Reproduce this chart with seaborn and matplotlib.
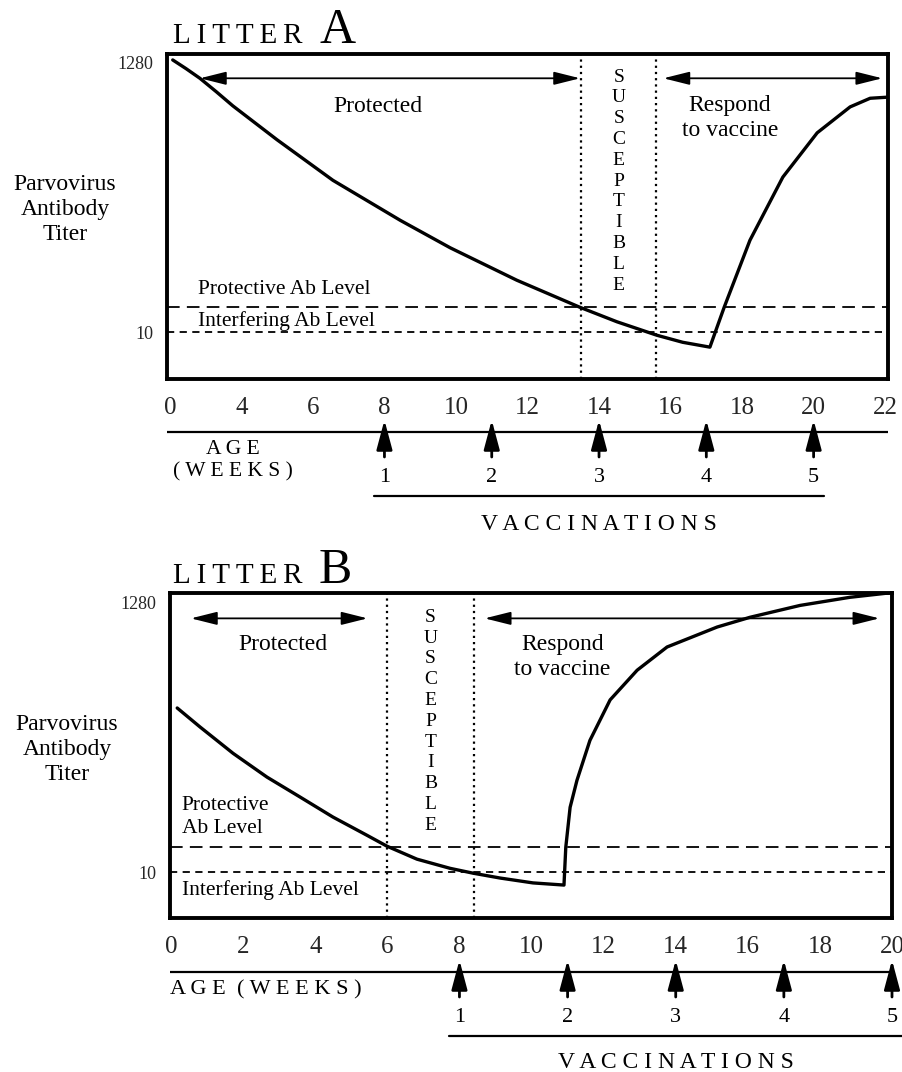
import numpy as np
import seaborn as sns
import matplotlib.pyplot as plt

# ---- data ----
# x tick labels (weeks); litter A axis jumps straight from 0 to 4
ticks_a = [0, 4, 6, 8, 10, 12, 14, 16, 18, 20, 22]
ticks_b = [0, 2, 4, 6, 8, 10, 12, 14, 16, 18, 20]
vacc_weeks = [8, 11, 14, 17, 20]
vacc_labels = ["1", "2", "3", "4", "5"]

# y is in tick steps: 0 -> titer 10, 5 -> titer 1280
y_ticklabels = ["10", "", "", "", "", "1280"]
protective_level = 0.46
interfering_level = 0.0

weeks_a = [0.16, 0.9, 1.68, 2.6, 3.52, 5.0, 6.56, 8.44, 9.84, 11.7, 13.46,
           14.5, 15.62, 16.34, 17.1, 17.5, 18.22, 19.14, 20.1, 21.02, 21.58,
           22.06]
level_a = [5.04, 4.88, 4.70, 4.45, 4.19, 3.56, 2.81, 2.07, 1.56, 0.96, 0.46,
           0.19, -0.06, -0.19, -0.28, 0.46, 1.70, 2.87, 3.69, 4.17, 4.33,
           4.35]

weeks_b = [0.17, 0.8, 1.72, 2.66, 3.58, 4.49, 5.44, 5.99, 6.82, 7.74, 8.38,
           9.13, 10.04, 10.9, 10.95, 11.07, 11.26, 11.62, 12.18, 12.93, 13.76,
           15.15, 16.06, 17.45, 18.83, 19.9]
level_b = [3.04, 2.69, 2.20, 1.76, 1.39, 1.02, 0.68, 0.48, 0.24, 0.07, -0.02,
           -0.11, -0.20, -0.24, 0.46, 1.2, 1.7, 2.44, 3.19, 3.74, 4.17,
           4.54, 4.72, 4.94, 5.09, 5.17]

susceptible_a = [13.5, 15.6]
susceptible_b = [6.0, 8.4]
protected_a = [1.68, 13.47]
respond_a = [15.8, 21.92]
protected_b = [0.55, 5.45]
respond_b = [8.7, 19.65]

# ---- style ----
sns.set_style("white")
plt.rcParams["font.family"] = ["Liberation Serif", "DejaVu Serif"]
plt.rcParams["text.color"] = "black"

W, H = 902, 1072
fig = plt.figure(figsize=(W / 100, H / 100), dpi=100)


def frac(x0, y0, x1, y1):
    # pixel box -> figure fraction
    return [x0 / W, 1 - y1 / H, (x1 - x0) / W, (y1 - y0) / H]


def fwd_a(w):
    w = np.asarray(w, float)
    return np.where(w < 4, w / 4, (w - 2) / 2)


def inv_a(p):
    p = np.asarray(p, float)
    return np.where(p < 1, 4 * p, 2 * p + 2)


arrow_span = dict(arrowstyle="<|-|>,head_length=0.8,head_width=0.2",
                  mutation_scale=20, lw=1.3, color="black", shrinkA=0, shrinkB=0)
arrow_up = dict(arrowstyle="-|>,head_length=0.9,head_width=0.24",
                mutation_scale=20, lw=2.0, color="black", shrinkA=0, shrinkB=0)


def panel(ax, weeks, level, ticks, xlim, ylim, susc, prot, resp):
    sns.lineplot(x=weeks, y=level, ax=ax, color="black", lw=2.4,
                 estimator=None, sort=False)
    ax.set_xlim(xlim)
    ax.set_ylim(ylim)
    ax.set_xticks(ticks)
    ax.set_xticklabels([str(t) for t in ticks], fontsize=18)
    ax.tick_params(axis="x", length=0, pad=13)
    ax.set_yticks(range(6))
    ax.set_yticklabels(y_ticklabels, fontsize=13)
    ax.tick_params(axis="y", direction="out", length=9, width=1.6, pad=1)
    for s in ax.spines.values():
        s.set_visible(True)
        s.set_color("black")
        s.set_linewidth(2.8)

    ax.axhline(protective_level, color="black", lw=1.3, ls=(0, (7, 4)))
    ax.axhline(interfering_level, color="black", lw=1.3, ls=(0, (4, 3)))
    for x in susc:
        ax.axvline(x, color="black", lw=1.6, ls=(0, (1, 1.8)))

    ax.annotate("", xy=(prot[1], 4.7), xytext=(prot[0], 4.7), arrowprops=arrow_span)
    ax.annotate("", xy=(resp[1], 4.7), xytext=(resp[0], 4.7), arrowprops=arrow_span)

    mid = sum(susc) / 2
    for i, ch in enumerate("SUSCEPTIBLE"):
        ax.text(mid, 4.72 - i * 0.385, ch, ha="center", va="center", fontsize=14)


def strip(ax, y_line, y_arrow, y_num, y_under, y_vacc):
    ax.axis("off")
    ax.axhline(y_line, color="black", lw=1.6)
    for v, lab in zip(vacc_weeks, vacc_labels):
        ax.annotate("", xy=(v, y_arrow[0]), xytext=(v, y_arrow[1]), arrowprops=arrow_up)
        ax.text(v, y_num, lab, ha="center", va="center", fontsize=16)
    ax.plot([vacc_weeks[0] - 0.3, vacc_weeks[-1] + 0.3], [y_under, y_under],
            color="black", lw=1.6, clip_on=False)
    ax.text(sum(vacc_weeks) / len(vacc_weeks), y_vacc, "V A C C I N A T I O N S",
            ha="center", va="center", fontsize=17)


def title(y, letter, x_letter):
    fig.text(173 / W, 1 - y / H, "L\u2009I\u2009T\u2009T\u2009E\u2009R",
             fontsize=21, va="baseline")
    fig.text(x_letter / W, 1 - y / H, letter, fontsize=36, va="baseline")


# ---- Litter A ----
ax_a = fig.add_axes(frac(167, 54, 888, 379))
ax_a.set_xscale("function", functions=(fwd_a, inv_a))
panel(ax_a, weeks_a, level_a, ticks_a, (-0.16, 22.08), (-0.87, 5.15),
      susceptible_a, protected_a, respond_a)
ax_a.text(7.82, 4.17, "Protected", ha="center", va="center", fontsize=17)
ax_a.text(17.66, 3.96, "Respond\nto vaccine", ha="center", va="center",
          fontsize=17, linespacing=1.25)
ax_a.text(1.57, 0.78, "Protective Ab Level", ha="left", va="center", fontsize=15.5)
ax_a.text(1.57, 0.2, "Interfering Ab Level", ha="left", va="center", fontsize=15.5)

st_a = fig.add_axes(frac(167, 395, 888, 540), sharex=ax_a)
st_a.set_ylim(540, 395)
strip(st_a, 432, (420, 457), 478, 496, 524)
st_a.text(0.092, 461, "A G E\n( W E E K S )", ha="center", va="center",
          fontsize=15.5, linespacing=1.2, transform=st_a.get_yaxis_transform())

title(43, "A", 320)
fig.text(65 / W, 1 - 209 / H, "Parvovirus\nAntibody\nTiter", ha="center",
         va="center", fontsize=17, linespacing=1.25)

# ---- Litter B ----
ax_b = fig.add_axes(frac(170, 593, 892, 918))
panel(ax_b, weeks_b, level_b, ticks_b, (-0.03, 20.0), (-0.85, 5.17),
      susceptible_b, protected_b, respond_b)
ax_b.text(3.11, 4.22, "Protected", ha="center", va="center", fontsize=17)
ax_b.text(10.85, 3.98, "Respond\nto vaccine", ha="center", va="center",
          fontsize=17, linespacing=1.25)
ax_b.text(0.3, 1.02, "Protective\nAb Level", ha="left", va="center",
          fontsize=15.5, linespacing=1.25)
ax_b.text(0.3, -0.33, "Interfering Ab Level", ha="left", va="center", fontsize=15.5)

st_b = fig.add_axes(frac(170, 925, 892, 1072), sharex=ax_b)
st_b.set_ylim(1072, 925)
strip(st_b, 972, (960, 997), 1017, 1036, 1062)
st_b.text(0.0, 990, "A G E  ( W E E K S )", ha="left", va="center",
          fontsize=16, transform=st_b.get_yaxis_transform())

title(583, "B", 319)
fig.text(67 / W, 1 - 750 / H, "Parvovirus\nAntibody\nTiter", ha="center",
         va="center", fontsize=17, linespacing=1.25)

fig.savefig("out.png", dpi=100)
